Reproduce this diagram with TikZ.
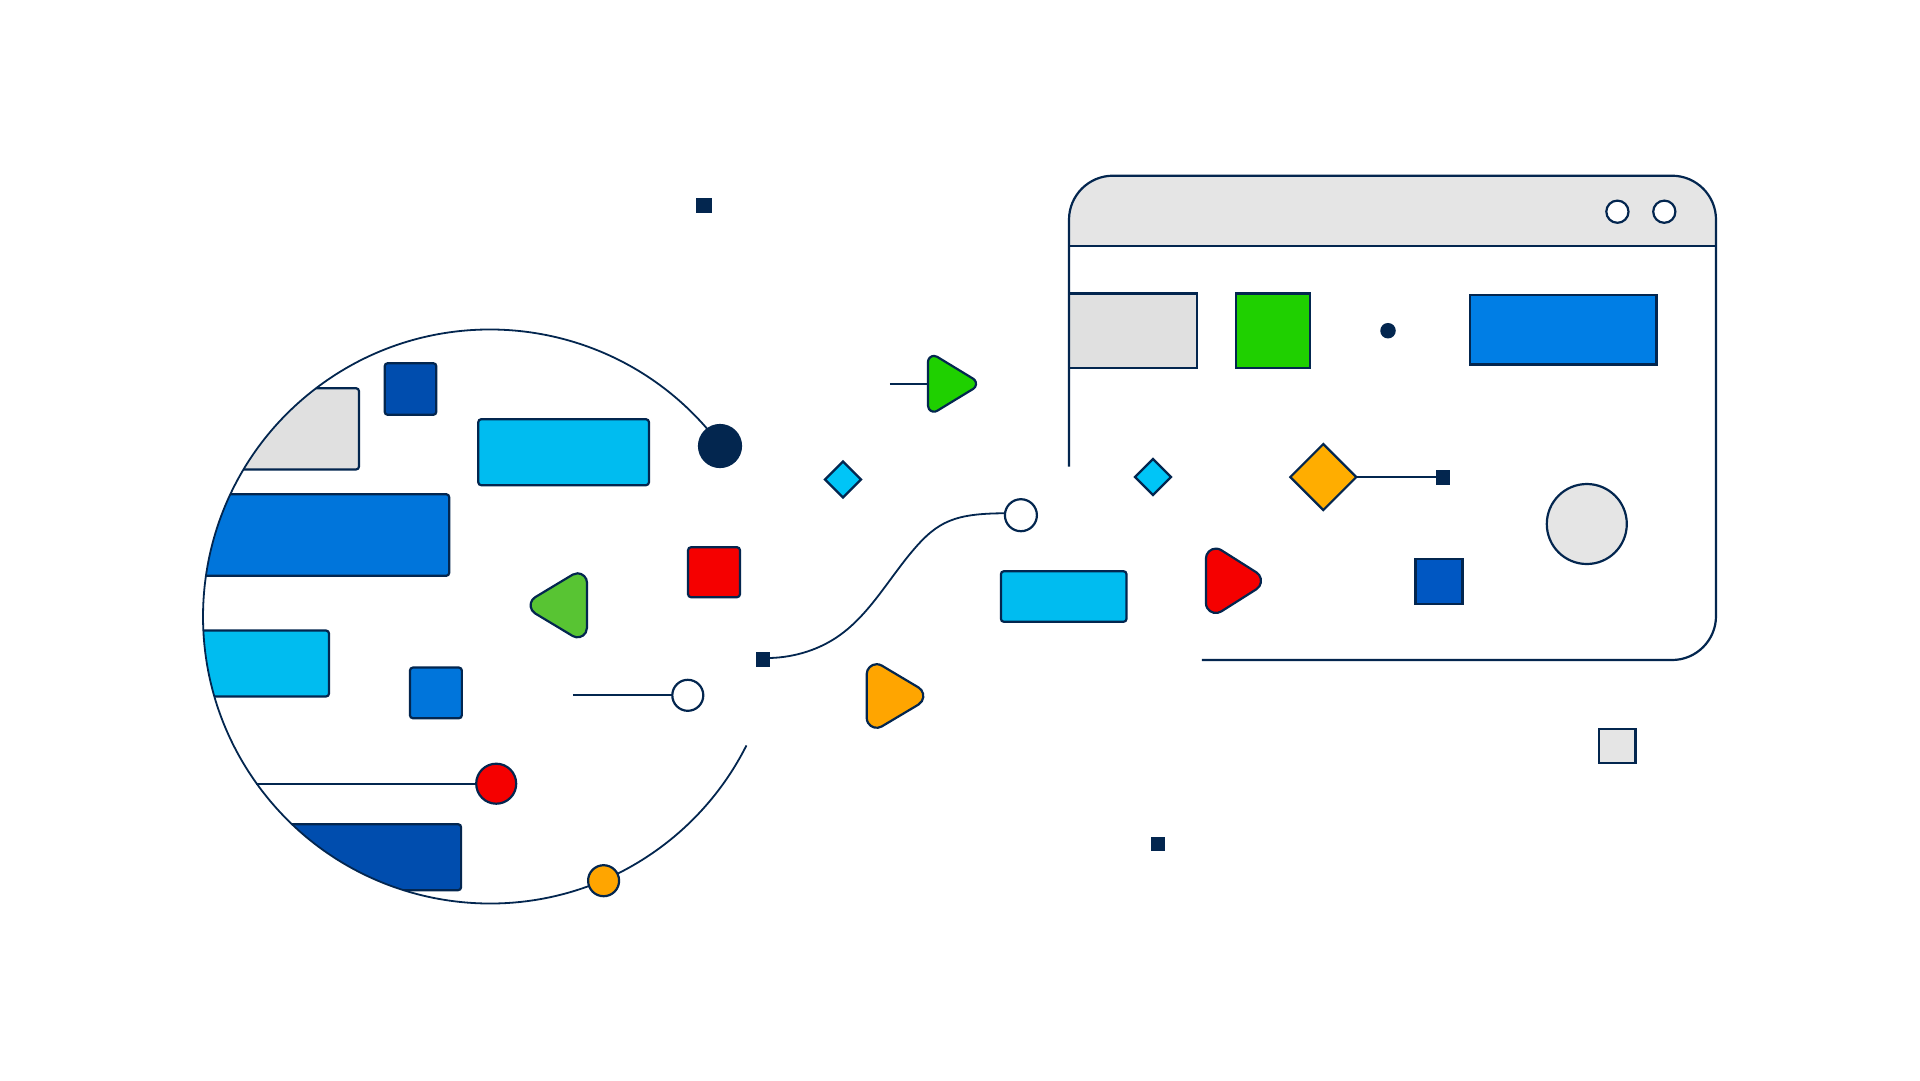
\documentclass[tikz,border=0pt]{standalone}
\usetikzlibrary{shapes.geometric}
\definecolor{navy}{HTML}{03264F}
\definecolor{cya}{HTML}{00BCF0}
\definecolor{cyb}{HTML}{00C5F7}
\definecolor{blua}{HTML}{0075DB}
\definecolor{blub}{HTML}{004DAE}
\definecolor{bluc}{HTML}{007EE5}
\definecolor{blud}{HTML}{0057C2}
\definecolor{redc}{HTML}{F50000}
\definecolor{grna}{HTML}{1FD000}
\definecolor{grnb}{HTML}{58C433}
\definecolor{ora}{HTML}{FFA500}
\definecolor{orb}{HTML}{FFAD00}
\definecolor{gra}{HTML}{E0E0E0}
\definecolor{grb}{HTML}{E5E5E5}
\tikzset{
  ln/.style={draw=navy,line width=2.2pt},
  thin ln/.style={draw=navy,line width=1.8pt},
  base/.style={ln,inner sep=0pt,outer sep=0pt},
  rbox/.style={base,rectangle,rounded corners=3pt},
  sbox/.style={base,rectangle},
  solidsq/.style={rectangle,fill=navy,inner sep=0pt,outer sep=0pt},
  disc/.style={base,circle},
  gem/.style={base,diamond,aspect=1},
  wh/.style={minimum width=#1},
  ht/.style={minimum height=#1},
  dia/.style={minimum size=#1},
  tri/.style={ln,line join=round}
}
% #1 options, #2 flat-side x, #3 tip x, #4 centre y, #5 half height, #6 corner radius
\newcommand{\roundtri}[6][]{%
  \pgfmathsetmacro{\tdx}{#3-#2-2*#6}%
  \pgfmathsetmacro{\tdy}{#5-#6}%
  \pgfmathsetmacro{\tang}{atan(\tdy/\tdx)}%
  \pgfmathsetmacro{\tlen}{sqrt(\tdx*\tdx+\tdy*\tdy)}%
  \draw[tri,#1] (#2,#4-#5+#6) arc[start angle=180,end angle=90-\tang,radius=#6pt]
    -- ++(-\tang:\tlen pt) arc[start angle=90-\tang,end angle=\tang-90,radius=#6pt]
    -- ++(180+\tang:\tlen pt) arc[start angle=\tang-90,end angle=-180,radius=#6pt]
    -- cycle;%
}
\begin{document}
\begin{tikzpicture}[x=1pt,y=-1pt]
\useasboundingbox (0,0) rectangle (1920,1080);
\fill[white] (0,0) rectangle (1920,1080);

% clipped bars in the big circle
\begin{scope}
\clip (490,616.5) circle [radius=287pt];
\node[rbox,fill=gra,wh=240,ht=81.3] (barg) at (239,428.85) {};
\node[rbox,fill=blua,wh=330,ht=81.6] (barb) at (284.2,535) {};
\node[rbox,fill=cya,wh=200,ht=66] (barc) at (229,663.5) {};
\node[rbox,fill=blub,wh=300,ht=66] (bard) at (311.1,857.2) {};
\end{scope}

% big circle outline
\coordinate (arcs) at (716.2,439.8);
\draw[thin ln] (arcs) arc[start angle=38,end angle=333.3,radius=287pt];

\node[rbox,fill=blub,wh=51.6,ht=51.6] (sq1) at (410.5,389) {};
\node[rbox,fill=cya,wh=170.7,ht=66] (r1) at (563.6,452.2) {};
\node[disc,fill=navy,dia=42] (dark) at (720,446) {};
\node[rbox,fill=redc,wh=51.9,ht=50] (sq2) at (714,572.2) {};
\node[rbox,fill=blua,wh=51.9,ht=50.7] (sq3) at (435.9,692.9) {};

\roundtri[fill=grnb,xscale=-1]{-587}{-530.6}{605.3}{32}{9.5}

% ring with stem
\coordinate (st1) at (572.9,695.3);
\node[disc,fill=white,dia=31] (ring1) at (687.8,695.3) {};
\draw[ln] (st1) -- (ring1);

% red circle with stem
\coordinate (st2) at (256.2,783.7);
\node[disc,fill=redc,dia=40] (redb) at (496.2,783.7) {};
\draw[ln] (st2) -- (redb);

\node[disc,fill=ora,dia=31] (orc) at (603.6,880.7) {};

% free squares
\node[solidsq,wh=16,ht=14.5] (p1) at (704,205.5) {};
\node[solidsq,wh=14,ht=14.5] (p2) at (1158.3,844) {};
\node[sbox,fill=grb,wh=36.3,ht=34.4] (p3) at (1617.3,746) {};

% middle
\node[solidsq,wh=14,ht=15] (cs) at (762.8,659.5) {};
\node[disc,fill=white,dia=32] (ring2) at (1020.9,515.2) {};
\draw[thin ln] (cs.east) ++(0,-1.5) .. controls (795,657.3) and (820,649.5) .. (840,635)
  .. controls (870,613.5) and (889.3,578) .. (913.3,550)
  .. controls (938,521) and (955,513.5) .. (ring2.173);

\coordinate (st3) at (889.8,383.8);
\coordinate (gt) at (928,383.8);
\draw[ln] (st3) -- (gt);
\roundtri[fill=grna]{928}{976}{383.8}{27.9}{6}
\roundtri[fill=ora]{866.7}{923.3}{696}{31.8}{10}
\roundtri[fill=redc]{1205.9}{1261}{580.8}{32.2}{10}

\node[gem,fill=cyb,dia=36] (d1) at (843,479.5) {};
\node[gem,fill=cyb,dia=36] (d2) at (1153,477) {};
\node[rbox,fill=cya,wh=125.6,ht=50.6] (r2) at (1063.7,596.5) {};

% window
\fill[grb] (1069,245.7) -- (1069,219.7) arc[start angle=180,end angle=90,radius=44pt]
  -- (1672,175.7) arc[start angle=90,end angle=0,radius=44pt] -- (1716,245.7) -- cycle;
\node[sbox,fill=gra,wh=128.2,ht=74.3] (w1) at (1133.1,330.6) {};
\node[sbox,fill=grna,wh=74,ht=74.3] (w2) at (1272.8,330.6) {};
\node[disc,fill=navy,draw=none,dia=15.5] (w3) at (1388,330.7) {};
\node[sbox,fill=bluc,wh=186.4,ht=69.3] (w4) at (1563.3,329.8) {};
\draw[ln] (1069,245.7) -- (1716,245.7);
\draw[ln,rounded corners=44pt] (1069,466.7) -- (1069,175.7) -- (1716,175.7) -- (1716,660) -- (1201.8,660);
\node[disc,fill=white,dia=22.2] (b1) at (1617.4,211.7) {};
\node[disc,fill=white,dia=22.2] (b2) at (1664.3,211.7) {};

\node[gem,fill=orb,dia=66] (d3) at (1323.3,477) {};
\node[solidsq,wh=14,ht=15] (s3) at (1443,477.5) {};
\draw[ln] (d3.east) -- (d3.east -| s3);
\node[disc,fill=grb,dia=80] (gc) at (1586.8,524) {};
\node[sbox,fill=blud,wh=47,ht=45] (w5) at (1439,581.7) {};
\end{tikzpicture}
\end{document}
